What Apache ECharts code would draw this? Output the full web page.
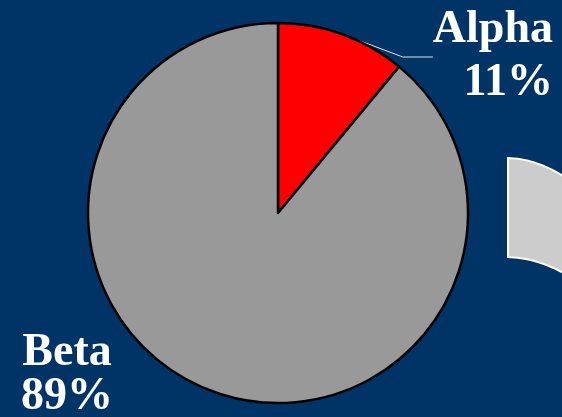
<!DOCTYPE html>
<html>
<head>
<meta charset="utf-8">
<script src="https://cdn.jsdelivr.net/npm/echarts@6/dist/echarts.min.js"></script>
<style>
  html, body { margin: 0; padding: 0; background: #003366; }
  #chart { width: 562px; height: 417px; }
</style>
</head>
<body>
<div id="chart"></div>
<script>
// Share of each group
const categories = ['Alpha', 'Beta'];
const shares = [11, 89];
const sliceColors = ['#ff0000', '#999999'];

const chart = echarts.init(document.getElementById('chart'), null, { renderer: 'canvas' });

// Outline of the grey panel peeking in at the right edge (curved top and bottom)
function quad(p0, p1, p2, n) {
  const pts = [];
  for (let i = 0; i <= n; i++) {
    const t = i / n, u = 1 - t;
    pts.push([u * u * p0[0] + 2 * u * t * p1[0] + t * t * p2[0],
              u * u * p0[1] + 2 * u * t * p1[1] + t * t * p2[1]]);
  }
  return pts;
}
const panelPoints = []
  .concat(quad([508, 158], [540, 159], [572, 182], 20))
  .concat(quad([572, 278], [540, 258], [508, 257], 20));

const labelFont = {
  color: '#ffffff',
  fontFamily: '"Liberation Serif", "Times New Roman", serif',
  fontWeight: 'bold',
  fontSize: 46
};

chart.setOption({
  backgroundColor: '#003366',
  animation: false,
  graphic: [
    {
      type: 'polygon',
      shape: { points: panelPoints },
      style: { fill: '#cccccc', stroke: '#fffbe6', lineWidth: 2 }
    }
  ],
  series: [
    {
      type: 'pie',
      center: [278, 213],
      radius: 190,
      startAngle: 90,
      clockwise: true,
      itemStyle: { borderColor: '#000000', borderWidth: 2.5 },
      label: Object.assign({
        show: true,
        formatter: '{b}\n{d}%'
      }, labelFont),
      labelLine: {
        show: true,
        lineStyle: { color: '#dfe5ee', width: 1 }
      },
      labelLayout: function (params) {
        if (params.dataIndex === 0) {
          return { x: 553, y: 57, verticalAlign: 'middle', align: 'right' };
        }
        return { x: 67, y: 375, verticalAlign: 'middle', align: 'center' };
      },
      data: categories.map((name, i) => ({
        name: name,
        value: shares[i],
        itemStyle: { color: sliceColors[i] },
        label: { lineHeight: i === 0 ? 53 : 44, align: i === 0 ? 'right' : 'center' },
        labelLine: { show: i === 0 }
      }))
    }
  ]
});
</script>
</body>
</html>
